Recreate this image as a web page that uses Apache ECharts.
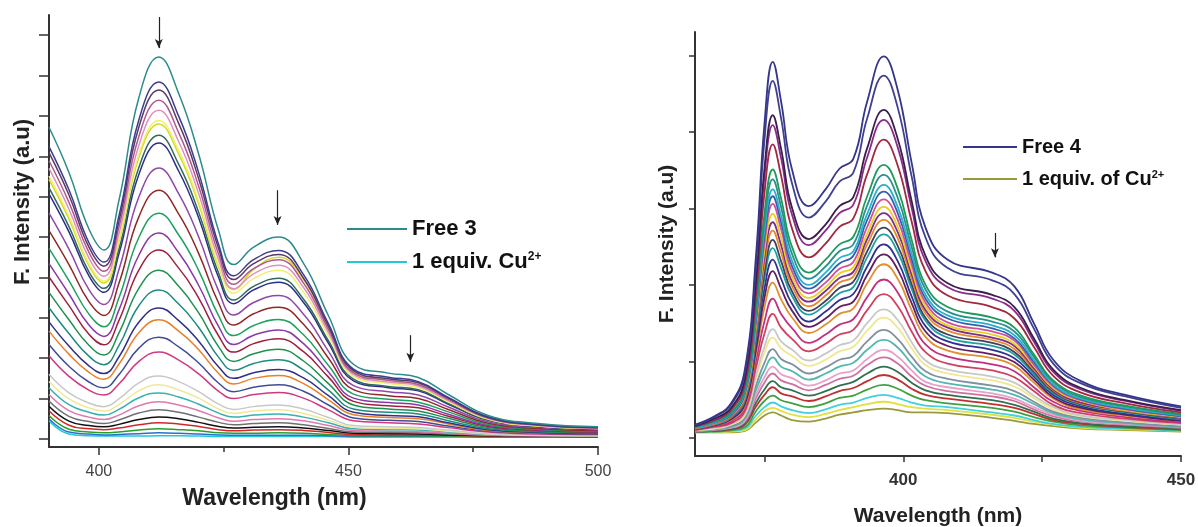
<!DOCTYPE html>
<html>
<head>
<meta charset="utf-8">
<script src="https://cdn.jsdelivr.net/npm/echarts@6/dist/echarts.min.js"></script>
<style>
html,body{margin:0;padding:0;background:#fff;}
#chart{width:1198px;height:527px;}
</style>
</head>
<body>
<div id="chart"></div>
<script>
// ---------- Left panel (compound 3) ----------
const wavelengthsLeft = [390,394,398,401,404,408,412,416,420,424,427,431,436,441,446,451,458,464,470,478,488,500];
const spectraLeft = [
  [7.72,6.60,5.20,4.68,5.90,8.45,9.46,8.55,7.05,5.15,4.32,4.75,5.00,4.35,3.05,1.85,1.63,1.52,1.10,0.58,0.38,0.30],
  [7.24,6.17,4.86,4.38,5.52,7.90,8.84,7.99,6.59,4.81,4.04,4.44,4.67,4.07,2.85,1.73,1.53,1.42,1.03,0.55,0.36,0.28],
  [7.09,6.04,4.75,4.28,5.39,7.72,8.64,7.81,6.44,4.71,3.95,4.34,4.57,3.98,2.79,1.69,1.49,1.39,1.01,0.53,0.35,0.28],
  [6.89,5.86,4.62,4.15,5.24,7.49,8.39,7.58,6.25,4.57,3.83,4.22,4.44,3.86,2.71,1.64,1.45,1.35,0.98,0.52,0.34,0.27],
  [6.70,5.69,4.48,4.03,5.08,7.27,8.14,7.36,6.07,4.43,3.72,4.09,4.30,3.75,2.63,1.60,1.41,1.31,0.95,0.51,0.33,0.26],
  [6.51,5.52,4.34,3.91,4.93,7.05,7.89,7.14,5.88,4.30,3.61,3.97,4.18,3.63,2.55,1.55,1.37,1.27,0.92,0.49,0.32,0.26],
  [6.43,5.45,4.29,3.86,4.87,6.97,7.80,7.05,5.81,4.25,3.70,4.20,4.50,3.95,2.75,1.65,1.45,1.32,0.93,0.49,0.32,0.26],
  [6.22,5.26,4.14,3.73,4.69,6.72,7.52,6.80,5.61,4.10,3.44,3.78,3.98,3.46,2.43,1.48,1.30,1.22,0.88,0.47,0.31,0.25],
  [6.07,5.13,4.04,3.63,4.58,6.55,7.33,6.63,5.47,3.99,3.35,3.69,3.88,3.38,2.37,1.44,1.27,1.19,0.86,0.46,0.31,0.24],
  [5.59,4.70,3.70,3.33,4.19,5.99,6.71,6.07,5.00,3.66,3.07,3.38,3.55,3.09,2.17,1.32,1.17,1.09,0.79,0.42,0.28,0.23],
  [5.16,4.32,3.40,3.06,3.85,5.50,6.16,5.57,4.59,3.36,2.82,3.10,3.26,2.84,2.00,1.22,1.07,1.00,0.73,0.39,0.26,0.21],
  [4.72,3.92,3.09,2.78,3.49,4.99,5.59,5.05,4.17,3.05,2.56,2.81,2.96,2.58,1.82,1.11,0.98,0.91,0.67,0.36,0.24,0.20],
  [4.34,3.59,2.82,2.54,3.19,4.55,5.10,4.61,3.80,2.78,2.34,2.57,2.70,2.36,1.66,1.01,0.90,0.84,0.61,0.33,0.23,0.18],
  [4.01,3.30,2.59,2.33,2.93,4.18,4.68,4.23,3.49,2.55,2.15,2.36,2.48,2.16,1.53,0.93,0.82,0.77,0.56,0.31,0.21,0.17],
  [3.63,2.95,2.32,2.08,2.62,3.73,4.18,3.78,3.12,2.28,1.92,2.11,2.22,1.93,1.37,0.84,0.74,0.69,0.51,0.28,0.19,0.16],
  [3.25,2.61,2.05,1.84,2.31,3.30,3.69,3.34,2.76,2.02,1.70,1.87,1.96,1.71,1.21,0.74,0.66,0.62,0.45,0.25,0.18,0.15],
  [2.90,2.30,1.81,1.62,2.03,2.89,3.24,2.93,2.42,1.78,1.50,1.64,1.72,1.51,1.07,0.66,0.58,0.55,0.40,0.23,0.16,0.13],
  [2.67,2.10,1.65,1.48,1.85,2.63,2.95,2.67,2.21,1.62,1.36,1.50,1.57,1.37,0.97,0.60,0.53,0.50,0.37,0.21,0.15,0.13],
  [2.34,1.80,1.41,1.27,1.59,2.25,2.52,2.28,1.88,1.38,1.17,1.28,1.34,1.18,0.84,0.52,0.46,0.43,0.32,0.19,0.14,0.12],
  [2.06,1.55,1.21,1.09,1.36,1.92,2.15,1.95,1.61,1.18,1.00,1.10,1.15,1.01,0.72,0.45,0.40,0.37,0.28,0.17,0.12,0.11],
  [1.60,1.14,0.89,0.80,0.99,1.39,1.56,1.42,1.17,0.86,0.73,0.80,0.84,0.74,0.53,0.33,0.30,0.28,0.22,0.13,0.10,0.09],
  [1.42,0.99,0.77,0.69,0.85,1.19,1.34,1.21,1.01,0.74,0.63,0.69,0.72,0.63,0.46,0.29,0.26,0.25,0.19,0.12,0.09,0.08],
  [1.27,0.85,0.66,0.59,0.73,1.02,1.14,1.04,0.86,0.64,0.54,0.59,0.62,0.54,0.40,0.25,0.23,0.22,0.17,0.11,0.09,0.08],
  [1.10,0.70,0.54,0.48,0.59,0.82,0.92,0.84,0.70,0.52,0.44,0.48,0.50,0.45,0.33,0.21,0.19,0.18,0.14,0.10,0.08,0.07],
  [0.94,0.56,0.43,0.38,0.47,0.64,0.72,0.66,0.54,0.41,0.35,0.38,0.40,0.35,0.26,0.17,0.16,0.15,0.12,0.09,0.07,0.07],
  [0.81,0.44,0.33,0.30,0.36,0.48,0.54,0.50,0.41,0.31,0.27,0.29,0.30,0.27,0.21,0.14,0.13,0.12,0.10,0.08,0.07,0.06],
  [0.70,0.34,0.25,0.23,0.27,0.35,0.40,0.37,0.31,0.23,0.20,0.22,0.23,0.21,0.16,0.11,0.10,0.10,0.09,0.07,0.06,0.06],
  [0.58,0.24,0.17,0.15,0.17,0.22,0.25,0.23,0.20,0.15,0.14,0.14,0.15,0.14,0.11,0.08,0.08,0.08,0.07,0.06,0.06,0.05],
  [0.50,0.17,0.12,0.10,0.11,0.13,0.15,0.14,0.12,0.10,0.09,0.09,0.09,0.09,0.08,0.06,0.06,0.06,0.06,0.05,0.05,0.05],
  [0.45,0.12,0.08,0.07,0.07,0.07,0.08,0.08,0.07,0.06,0.06,0.06,0.06,0.06,0.06,0.05,0.05,0.05,0.05,0.05,0.05,0.05]
];
const colorsLeft = ['#2e8b8b','#3c3c8c','#5a3a6a','#b05890','#e090c0','#f0f070','#d8d820','#2e6b5a','#2e2e8a','#9048a8',
  '#902828','#1fa060','#8838a8','#a02040','#1f9050','#1f8a80','#303088','#e88028','#404c98','#d03880',
  '#c8c8c8','#f0e898','#38b0b0','#e078b0','#707070','#111111','#d02828','#28a028','#2870d0','#20c8d8'];
const legendLeft = ['Free 3', '1 equiv. Cu2+'];
const yTicksLeft = [0,1,2,3,4,5,6,7,8,9,10];
const xTicksLeft = [400,450,500];
const xMinorTicksLeft = [425,475];
const arrowsLeft = [[412,10.45,9.68],[435.8,6.16,5.30],[462.4,2.57,1.91]];

// ---------- Right panel (compound 4) ----------
const wavelengthsRight = [362.5,366,369,371.5,373.5,375,376.5,378,380,383,386,388.5,391,393.5,396.5,399,401.5,404,408,416,420,423.5,427,432,440,450];
const spectraRight = [
  [0.17,0.28,0.45,0.90,2.40,4.10,4.92,4.40,3.50,3.03,3.25,3.52,3.65,4.40,4.99,4.55,3.60,2.75,2.33,2.16,1.98,1.50,1.02,0.74,0.56,0.41],
  [0.16,0.27,0.43,0.86,2.28,3.89,4.67,4.18,3.32,2.88,3.09,3.35,3.47,4.18,4.74,4.32,3.42,2.62,2.22,2.06,1.88,1.43,0.97,0.71,0.54,0.39],
  [0.15,0.25,0.39,0.78,2.07,3.52,4.22,3.78,3.00,2.60,2.79,3.03,3.15,3.79,4.29,3.91,3.10,2.38,2.02,1.87,1.71,1.30,0.89,0.65,0.49,0.36],
  [0.15,0.24,0.38,0.75,2.00,3.41,4.09,3.66,2.91,2.52,2.71,2.94,3.05,3.67,4.16,3.80,3.01,2.31,1.97,1.82,1.66,1.26,0.86,0.63,0.48,0.35],
  [0.15,0.23,0.36,0.71,1.88,3.20,3.84,3.43,2.73,2.36,2.54,2.76,2.87,3.45,3.90,3.56,2.83,2.18,1.86,1.71,1.56,1.19,0.81,0.59,0.45,0.33],
  [0.14,0.22,0.33,0.65,1.72,2.93,3.51,3.13,2.49,2.16,2.33,2.53,2.63,3.16,3.57,3.26,2.59,2.00,1.71,1.57,1.44,1.09,0.75,0.55,0.42,0.31],
  [0.14,0.21,0.32,0.63,1.66,2.82,3.38,3.02,2.40,2.08,2.24,2.44,2.53,3.04,3.44,3.14,2.50,1.94,1.65,1.52,1.39,1.06,0.73,0.53,0.41,0.30],
  [0.13,0.20,0.31,0.61,1.60,2.71,3.25,2.90,2.31,2.00,2.16,2.35,2.44,2.93,3.31,3.02,2.41,1.87,1.60,1.47,1.34,1.02,0.70,0.51,0.39,0.29],
  [0.13,0.20,0.30,0.59,1.56,2.64,3.16,2.82,2.24,1.95,2.10,2.28,2.38,2.85,3.22,2.94,2.34,1.82,1.56,1.43,1.30,0.99,0.69,0.50,0.38,0.28],
  [0.13,0.19,0.30,0.57,1.51,2.55,3.06,2.73,2.17,1.89,2.03,2.21,2.30,2.76,3.12,2.85,2.27,1.77,1.51,1.39,1.27,0.96,0.67,0.49,0.37,0.28],
  [0.13,0.19,0.29,0.55,1.46,2.45,2.93,2.62,2.10,1.83,1.97,2.15,2.23,2.67,3.02,2.76,2.20,1.72,1.47,1.35,1.23,0.94,0.65,0.48,0.36,0.27],
  [0.13,0.19,0.28,0.54,1.42,2.36,2.82,2.52,2.04,1.78,1.92,2.09,2.17,2.60,2.94,2.69,2.14,1.67,1.44,1.31,1.20,0.91,0.63,0.46,0.36,0.26],
  [0.12,0.18,0.27,0.52,1.38,2.27,2.71,2.42,1.98,1.72,1.86,2.03,2.11,2.53,2.85,2.61,2.08,1.63,1.40,1.28,1.16,0.89,0.62,0.45,0.35,0.26],
  [0.12,0.18,0.27,0.51,1.33,2.16,2.59,2.31,1.91,1.66,1.79,1.96,2.04,2.44,2.75,2.51,2.01,1.57,1.35,1.24,1.12,0.86,0.60,0.44,0.34,0.25],
  [0.12,0.17,0.26,0.49,1.29,2.08,2.48,2.22,1.85,1.61,1.74,1.89,1.97,2.36,2.66,2.43,1.95,1.53,1.31,1.20,1.09,0.83,0.58,0.43,0.33,0.24],
  [0.12,0.17,0.25,0.47,1.23,1.95,2.33,2.08,1.75,1.52,1.65,1.80,1.88,2.24,2.53,2.31,1.85,1.46,1.26,1.15,1.04,0.80,0.56,0.41,0.31,0.23],
  [0.11,0.16,0.24,0.44,1.16,1.83,2.18,1.95,1.66,1.45,1.56,1.71,1.78,2.13,2.40,2.20,1.76,1.39,1.20,1.09,0.99,0.76,0.53,0.39,0.30,0.22],
  [0.11,0.16,0.23,0.42,1.10,1.70,2.03,1.81,1.57,1.37,1.48,1.62,1.69,2.02,2.27,2.08,1.67,1.32,1.14,1.04,0.94,0.72,0.51,0.37,0.29,0.22],
  [0.11,0.15,0.21,0.39,1.01,1.52,1.82,1.62,1.43,1.24,1.35,1.48,1.55,1.84,2.07,1.90,1.53,1.22,1.06,0.96,0.87,0.66,0.47,0.35,0.27,0.20],
  [0.10,0.14,0.19,0.35,0.92,1.36,1.62,1.44,1.29,1.13,1.23,1.35,1.41,1.67,1.88,1.72,1.39,1.12,0.97,0.88,0.79,0.61,0.43,0.32,0.25,0.19],
  [0.10,0.13,0.18,0.32,0.82,1.19,1.42,1.26,1.15,1.01,1.10,1.21,1.27,1.50,1.68,1.54,1.25,1.01,0.89,0.80,0.72,0.55,0.40,0.29,0.23,0.17],
  [0.10,0.12,0.17,0.30,0.77,1.11,1.31,1.17,1.07,0.94,1.02,1.13,1.19,1.40,1.57,1.44,1.17,0.95,0.84,0.75,0.67,0.52,0.37,0.28,0.22,0.17],
  [0.09,0.12,0.15,0.27,0.69,0.98,1.16,1.03,0.96,0.84,0.92,1.02,1.07,1.26,1.41,1.29,1.06,0.87,0.77,0.68,0.61,0.47,0.34,0.26,0.20,0.15],
  [0.09,0.11,0.14,0.25,0.63,0.88,1.05,0.93,0.87,0.76,0.84,0.93,0.98,1.15,1.28,1.18,0.97,0.80,0.71,0.63,0.56,0.44,0.32,0.24,0.19,0.14],
  [0.09,0.11,0.13,0.23,0.57,0.79,0.93,0.83,0.78,0.68,0.75,0.84,0.88,1.03,1.15,1.06,0.88,0.73,0.66,0.58,0.51,0.40,0.30,0.22,0.18,0.14],
  [0.08,0.10,0.13,0.21,0.52,0.72,0.84,0.75,0.70,0.62,0.69,0.77,0.81,0.95,1.05,0.97,0.80,0.68,0.61,0.54,0.48,0.37,0.28,0.21,0.17,0.13],
  [0.08,0.09,0.12,0.19,0.46,0.63,0.74,0.66,0.62,0.55,0.61,0.68,0.73,0.84,0.93,0.86,0.72,0.62,0.56,0.49,0.43,0.34,0.25,0.19,0.15,0.12],
  [0.08,0.09,0.11,0.17,0.41,0.56,0.66,0.58,0.54,0.48,0.54,0.61,0.65,0.74,0.82,0.76,0.64,0.56,0.51,0.44,0.39,0.31,0.23,0.18,0.14,0.11],
  [0.08,0.08,0.10,0.14,0.35,0.48,0.55,0.49,0.45,0.40,0.45,0.52,0.55,0.63,0.69,0.64,0.55,0.49,0.45,0.39,0.34,0.27,0.21,0.16,0.13,0.10],
  [0.07,0.08,0.09,0.12,0.29,0.40,0.46,0.41,0.36,0.32,0.37,0.43,0.46,0.52,0.56,0.52,0.46,0.42,0.40,0.33,0.29,0.23,0.18,0.14,0.12,0.09],
  [0.07,0.07,0.08,0.10,0.24,0.35,0.39,0.35,0.30,0.27,0.31,0.36,0.40,0.44,0.47,0.44,0.40,0.38,0.36,0.30,0.26,0.21,0.17,0.13,0.11,0.09],
  [0.07,0.07,0.07,0.09,0.20,0.29,0.33,0.29,0.23,0.21,0.25,0.30,0.33,0.36,0.38,0.36,0.33,0.33,0.32,0.26,0.22,0.18,0.15,0.12,0.10,0.08]
];
const colorsRight = ['#35358a','#404090','#3a1f4a','#8b2a8b','#a02840','#1f9a5a','#2a8f8f','#2ab0c8','#3060b0','#d0509a',
  '#e8d020','#7a2f8f','#e88a2a','#404060','#20a0a0','#303090','#602060','#e09030','#c03080','#d04060',
  '#c8c8c8','#f0e890','#8090a0','#50b8b0','#e8a0c8','#d070a0','#307050','#c03030','#40a040','#40d0e0',
  '#e0e040','#9a9a3a'];
const legendRight = ['Free 4', '1 equiv. of Cu2+'];
const yTicksRight = [0,1,2,3,4,5];
const xTicksRight = [375,400,425,450];
const xLabelsRight = [400,450];
const arrowsRight = [[376.4,5.56,5.04],[396.0,5.56,5.04],[416.5,2.68,2.36]];

// ---------- build ----------
const FONT = 'Arial, "Liberation Sans", Helvetica, sans-serif';

function buildSeries(wl, spectra, colors, legendNames, axisIdx, arrows, width) {
  const out = [];
  for (let i = spectra.length - 1; i >= 0; i--) {
    let name = 'curve ' + axisIdx + '-' + i;
    if (i === 0) name = legendNames[0];
    if (i === spectra.length - 1) name = legendNames[1];
    const s = {
      name: name,
      type: 'line',
      xAxisIndex: axisIdx === 0 ? 0 : 2,
      yAxisIndex: axisIdx,
      data: wl.map((w, j) => [w, spectra[i][j]]),
      smooth: 0.45,
      showSymbol: false,
      symbol: 'none',
      silent: true,
      lineStyle: { width: width, color: colors[i] },
      itemStyle: { color: colors[i] },
      z: 2
    };
    if (i === 0) {
      s.markLine = {
        silent: true,
        animation: false,
        symbol: ['none', 'arrow'],
        symbolSize: [6, 9],
        label: { show: false },
        lineStyle: { color: '#222', width: 1.2, type: 'solid' },
        data: arrows.map(a => [{ coord: [a[0], a[1]] }, { coord: [a[0], a[2]] }])
      };
    }
    out.push(s);
  }
  return out;
}

const axisLineStyle = { color: '#333', width: 2 };

const option = {
  animation: false,
  backgroundColor: '#fff',
  textStyle: { fontFamily: FONT },
  grid: [
    { left: 49, top: 15, width: 549, height: 432, outerBoundsMode: 'none', containLabel: false },
    { left: 695, top: 32, width: 486, height: 424, outerBoundsMode: 'none', containLabel: false }
  ],
  xAxis: [
    { gridIndex: 0, type: 'value', position: 'bottom', min: 390, max: 500,
      axisLine: { onZero: false, lineStyle: axisLineStyle },
      axisTick: { customValues: xTicksLeft, length: 8, lineStyle: { color: '#333', width: 1.5 } },
      axisLabel: { customValues: xTicksLeft, fontSize: 16, color: '#444', margin: 17, fontFamily: FONT },
      splitLine: { show: false },
      name: 'Wavelength (nm)', nameLocation: 'middle', nameGap: 40,
      nameTextStyle: { fontSize: 23, fontWeight: 'bold', color: '#222', fontFamily: FONT, padding: [0, 98, 0, 0] } },
    { gridIndex: 0, type: 'value', position: 'bottom', min: 390, max: 500,
      axisLine: { show: false, onZero: false },
      axisTick: { customValues: xMinorTicksLeft, length: 5, lineStyle: { color: '#333', width: 1.5 } },
      axisLabel: { show: false }, splitLine: { show: false } },
    { gridIndex: 1, type: 'value', position: 'bottom', min: 362.5, max: 450,
      axisLine: { onZero: false, lineStyle: axisLineStyle },
      axisTick: { customValues: xTicksRight, length: 6, lineStyle: { color: '#333', width: 1.5 } },
      axisLabel: { customValues: xLabelsRight, fontSize: 17, fontWeight: 'bold', color: '#333', margin: 16, fontFamily: FONT },
      splitLine: { show: false },
      name: 'Wavelength (nm)', nameLocation: 'middle', nameGap: 50,
      nameTextStyle: { fontSize: 21, fontWeight: 'bold', color: '#222', fontFamily: FONT } }
  ],
  yAxis: [
    { gridIndex: 0, type: 'value', min: -0.2, max: 10.5,
      axisLine: { show: true, onZero: false, lineStyle: axisLineStyle },
      axisTick: { show: true, customValues: yTicksLeft, length: 10, lineStyle: { color: '#333', width: 1.5 } },
      axisLabel: { show: false }, splitLine: { show: false },
      name: 'F. Intensity (a.u)', nameLocation: 'middle', nameGap: 15, nameRotate: 90,
      nameTextStyle: { fontSize: 22, fontWeight: 'bold', color: '#222', fontFamily: FONT, padding: [0, 0, 0, 58] } },
    { gridIndex: 1, type: 'value', min: -0.24, max: 5.31,
      axisLine: { show: true, onZero: false, lineStyle: axisLineStyle },
      axisTick: { show: true, customValues: yTicksRight, length: 6, lineStyle: { color: '#333', width: 1.5 } },
      axisLabel: { show: false }, splitLine: { show: false },
      name: 'F. Intensity (a.u)', nameLocation: 'middle', nameGap: 17, nameRotate: 90,
      nameTextStyle: { fontSize: 21, fontWeight: 'bold', color: '#222', fontFamily: FONT } }
  ],
  legend: [
    { data: legendLeft, orient: 'vertical', left: 347, top: 218, padding: 0,
      itemWidth: 60, itemHeight: 2, itemGap: 11, icon: 'rect', selectedMode: false,
      formatter: n => n === legendLeft[1] ? '1 equiv. Cu{s|2+}' : n,
      textStyle: { fontSize: 22, fontWeight: 'bold', color: '#111', lineHeight: 22, fontFamily: FONT,
        rich: { s: { fontSize: 12, fontWeight: 'bold', color: '#111', lineHeight: 12, verticalAlign: 'top', fontFamily: FONT } } } },
    { data: legendRight, orient: 'vertical', left: 963, top: 137, padding: 0,
      itemWidth: 54, itemHeight: 2, itemGap: 12, icon: 'rect', selectedMode: false,
      formatter: n => n === legendRight[1] ? '1 equiv. of Cu{s|2+}' : n,
      textStyle: { fontSize: 20, fontWeight: 'bold', color: '#111', lineHeight: 20, fontFamily: FONT,
        rich: { s: { fontSize: 11, fontWeight: 'bold', color: '#111', lineHeight: 11, verticalAlign: 'top', fontFamily: FONT } } } }
  ],
  series: [].concat(
    buildSeries(wavelengthsLeft, spectraLeft, colorsLeft, legendLeft, 0, arrowsLeft, 1.5),
    buildSeries(wavelengthsRight, spectraRight, colorsRight, legendRight, 1, arrowsRight, 1.8)
  )
};

const chart = echarts.init(document.getElementById('chart'), null, { renderer: 'canvas' });
chart.setOption(option);
</script>
</body>
</html>
